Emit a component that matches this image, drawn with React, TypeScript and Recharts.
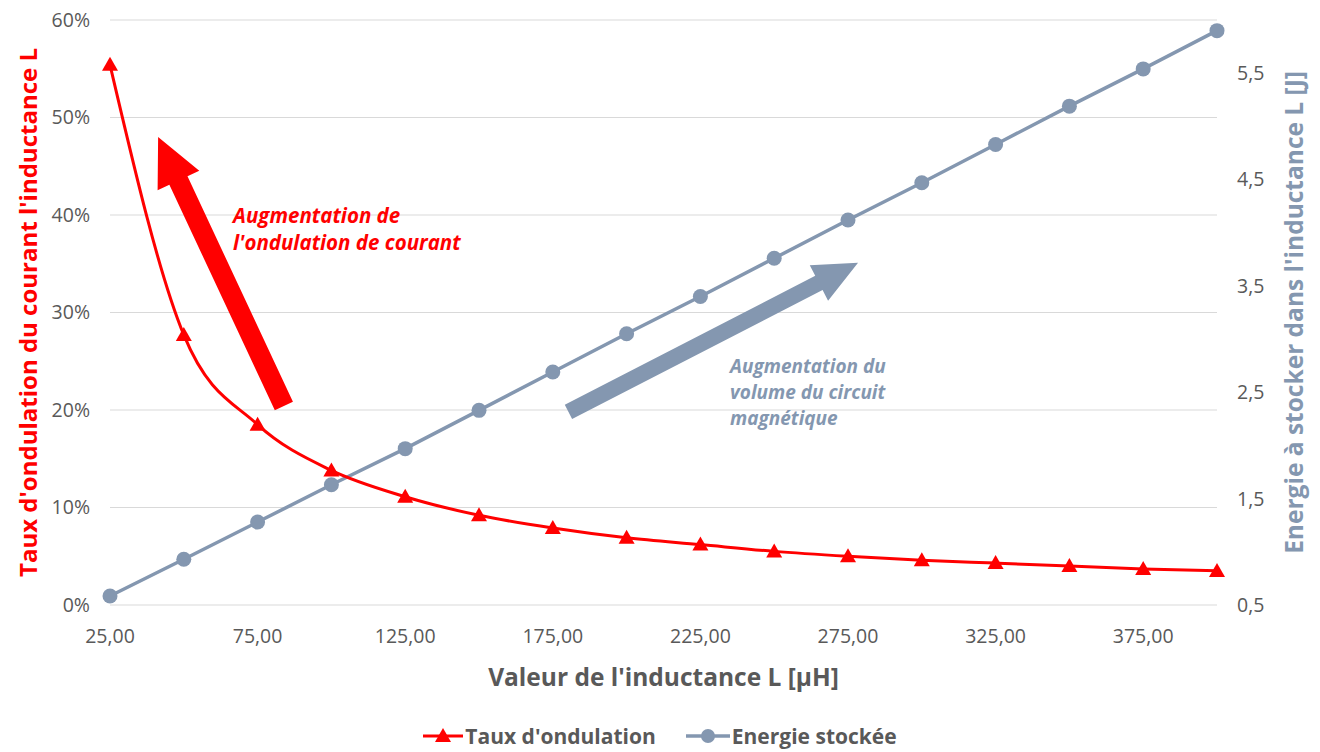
import React from "react";
import {
  LineChart,
  Line,
  XAxis,
  YAxis,
  CartesianGrid,
  Legend,
  ReferenceLine,
} from "recharts";

const inductance = [25, 50, 75, 100, 125, 150, 175, 200, 225, 250, 275, 300, 325, 350, 375, 400];
const rippleRate = [55.4, 27.7, 18.5, 13.8, 11.1, 9.2, 7.9, 6.9, 6.2, 5.5, 5.0, 4.6, 4.3, 4.0, 3.7, 3.5];
const storedEnergy = [0.585, 0.93, 1.28, 1.63, 1.97, 2.33, 2.69, 3.05, 3.4, 3.76, 4.12, 4.47, 4.83, 5.19, 5.54, 5.9];

const xTicks = [25, 75, 125, 175, 225, 275, 325, 375];
const leftTicks = [0, 10, 20, 30, 40, 50, 60];
const rightTicks = [0.5, 1.5, 2.5, 3.5, 4.5, 5.5];

const RED = "#ff0000";
const BLUE = "#8497b0";
const GREY_TEXT = "#595959";
const FONT = "'Open Sans', Lato, sans-serif";

const data = inductance.map((l, i) => ({
  l,
  ripple: rippleRate[i],
  energy: storedEnergy[i],
}));

// triangle marker for the ripple series
const Triangle = ({ cx, cy }: any) => {
  if (cx == null || cy == null) return null;
  return (
    <polygon
      points={`${cx},${cy - 8} ${cx - 8},${cy + 6} ${cx + 8},${cy + 6}`}
      fill={RED}
    />
  );
};

// thick block arrow, from (x1,y1) tail to (x2,y2) tip, with optional text next to it
const makeArrow =
  (opts: {
    fill: string;
    shaft: number;
    headW: number;
    headL: number;
    lines: string[];
    dx: number;
    dy: number;
    lineH: number;
    fontSize: number;
  }) =>
  (props: any) => {
    const { x1, y1, x2, y2 } = props;
    if (x1 == null) return null;
    const len = Math.hypot(x2 - x1, y2 - y1);
    const ux = (x2 - x1) / len;
    const uy = (y2 - y1) / len;
    const nx = -uy;
    const ny = ux;
    const bx = x2 - ux * opts.headL;
    const by = y2 - uy * opts.headL;
    const s = opts.shaft / 2;
    const h = opts.headW / 2;
    const pts = [
      [x1 + nx * s, y1 + ny * s],
      [bx + nx * s, by + ny * s],
      [bx + nx * h, by + ny * h],
      [x2, y2],
      [bx - nx * h, by - ny * h],
      [bx - nx * s, by - ny * s],
      [x1 - nx * s, y1 - ny * s],
    ]
      .map((p) => p.join(","))
      .join(" ");
    return (
      <g>
        <polygon points={pts} fill={opts.fill} />
        {opts.lines.map((t, i) => (
          <text
            key={t}
            x={x2 + opts.dx}
            y={y2 + opts.dy + i * opts.lineH}
            fill={opts.fill}
            fontSize={opts.fontSize}
            fontWeight={700}
            fontStyle="italic"
            fontFamily={FONT}
          >
            {t}
          </text>
        ))}
      </g>
    );
  };

const redArrow = makeArrow({
  fill: RED,
  shaft: 20,
  headW: 46,
  headL: 48,
  lines: ["Augmentation de", "l'ondulation de courant"],
  dx: 75,
  dy: 86,
  lineH: 27,
  fontSize: 20.5,
});

const greyArrow = makeArrow({
  fill: BLUE,
  shaft: 16,
  headW: 40,
  headL: 44,
  lines: ["Augmentation du", "volume du circuit", "magnétique"],
  dx: -128,
  dy: 110,
  lineH: 26,
  fontSize: 19,
});

// rotated axis titles
const VTitle = ({ viewBox, text, color, side, size }: any) => {
  if (!viewBox) return null;
  const cx = side === "left" ? viewBox.x + 27 : viewBox.x + viewBox.width - 27;
  const cy = viewBox.y + viewBox.height / 2;
  return (
    <text
      x={cx}
      y={cy}
      transform={`rotate(-90, ${cx}, ${cy})`}
      textAnchor="middle"
      dominantBaseline="central"
      fill={color}
      fontSize={size}
      fontWeight={700}
      fontFamily={FONT}
    >
      {text}
    </text>
  );
};

const XTitle = ({ viewBox }: any) => {
  if (!viewBox) return null;
  return (
    <text
      x={viewBox.x + viewBox.width / 2}
      y={viewBox.y + 71}
      textAnchor="middle"
      dominantBaseline="central"
      fill={GREY_TEXT}
      fontSize={24.5}
      fontWeight={700}
      fontFamily={FONT}
    >
      Valeur de l'inductance L [µH]
    </text>
  );
};

const LegendBox = () => (
  <div
    style={{
      display: "flex",
      justifyContent: "center",
      alignItems: "center",
      gap: 30,
      fontFamily: FONT,
      fontSize: 21,
      fontWeight: 700,
      color: GREY_TEXT,
    }}
  >
    <div style={{ display: "flex", alignItems: "center", gap: 2 }}>
      <svg width={40} height={20}>
        <line x1={0} y1={10} x2={40} y2={10} stroke={RED} strokeWidth={3} />
        <polygon points="20,2 12,16 28,16" fill={RED} />
      </svg>
      <span>Taux d'ondulation</span>
    </div>
    <div style={{ display: "flex", alignItems: "center", gap: 2 }}>
      <svg width={44} height={20}>
        <line x1={0} y1={10} x2={44} y2={10} stroke={BLUE} strokeWidth={3.5} />
        <circle cx={22} cy={10} r={7} fill={BLUE} />
      </svg>
      <span>Energie stockée</span>
    </div>
  </div>
);

export default function App() {
  return (
    <div
      style={{
        position: "absolute",
        left: 0,
        top: 0,
        width: 1320,
        height: 752,
        background: "#fff",
        fontFamily: FONT,
      }}
    >
      <LineChart
        width={1320}
        height={752}
        data={data}
        margin={{ top: 20, right: 0, bottom: 0, left: 0 }}
      >
        <CartesianGrid yAxisId="left" horizontal vertical={false} stroke="#d9d9d9" />
        <XAxis
          dataKey="l"
          type="number"
          domain={[25, 400]}
          ticks={xTicks}
          tickFormatter={(v: number) => v.toFixed(2).replace(".", ",")}
          axisLine={false}
          tickLine={false}
          tickMargin={18}
          height={117}
          tick={{ fill: GREY_TEXT, fontSize: 19.5, fontFamily: FONT }}
          label={<XTitle />}
        />
        <YAxis
          yAxisId="left"
          domain={[0, 60]}
          ticks={leftTicks}
          tickFormatter={(v: number) => `${v}%`}
          axisLine={false}
          tickLine={false}
          tickMargin={14}
          width={110}
          tick={{ fill: GREY_TEXT, fontSize: 19.5, fontFamily: FONT }}
          label={
            <VTitle
              side="left"
              color={RED}
              size={24}
              text="Taux d'ondulation du courant l'inductance L"
            />
          }
        />
        <YAxis
          yAxisId="right"
          orientation="right"
          domain={[0.5, 6]}
          ticks={rightTicks}
          tickFormatter={(v: number) => v.toFixed(1).replace(".", ",")}
          axisLine={false}
          tickLine={false}
          tickMargin={14}
          width={103}
          tick={{ fill: GREY_TEXT, fontSize: 19.5, fontFamily: FONT }}
          label={
            <VTitle
              side="right"
              color={BLUE}
              size={24.5}
              text="Energie à stocker dans l'inductance L [J]"
            />
          }
        />
        <Legend verticalAlign="bottom" height={30} content={<LegendBox />} />

        <ReferenceLine
          yAxisId="left"
          segment={[
            { x: 83.9, y: 20.4 },
            { x: 41.3, y: 48.0 },
          ]}
          shape={redArrow}
        />
        <ReferenceLine
          yAxisId="left"
          segment={[
            { x: 180.3, y: 19.8 },
            { x: 278.4, y: 35.1 },
          ]}
          shape={greyArrow}
        />

        <Line
          yAxisId="right"
          type="linear"
          dataKey="energy"
          stroke={BLUE}
          strokeWidth={3.5}
          dot={{ r: 7.5, fill: BLUE, stroke: BLUE, strokeWidth: 0 }}
          activeDot={false}
          isAnimationActive={false}
          legendType="circle"
          name="Energie stockée"
        />
        <Line
          yAxisId="left"
          type="monotone"
          dataKey="ripple"
          stroke={RED}
          strokeWidth={3}
          dot={<Triangle />}
          activeDot={false}
          isAnimationActive={false}
          legendType="triangle"
          name="Taux d'ondulation"
        />
      </LineChart>
    </div>
  );
}
